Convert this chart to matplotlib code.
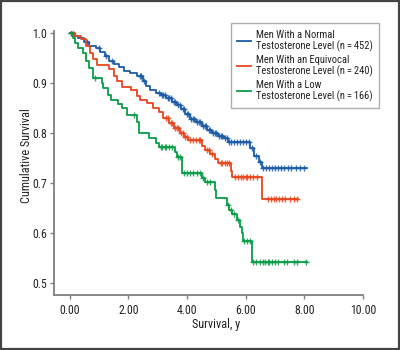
import numpy as np
import matplotlib
matplotlib.use("Agg")
import matplotlib.pyplot as plt
from matplotlib.patches import Rectangle

plt.rcParams['font.family'] = ['Roboto Condensed', 'Liberation Sans', 'DejaVu Sans']

# ---- data ----
labels = ["Men With a Normal\nTestosterone Level (n\u2009=\u2009452)",
          "Men With an Equivocal\nTestosterone Level (n\u2009=\u2009240)",
          "Men With a Low\nTestosterone Level (n\u2009=\u2009166)"]
colors = ["#1b5ca8", "#e8461e", "#0a9c48"]

normal_t = [0.0, 0.15, 0.3, 0.5, 0.65, 0.9, 1.05, 1.2, 1.35, 1.5, 1.7, 1.85, 2.05, 2.3, 2.5,
            2.6, 2.75, 2.95, 3.1, 3.3, 3.5, 3.65, 3.8, 3.95, 4.1, 4.3, 4.5, 4.7, 4.85, 5.05,
            5.25, 5.4, 6.15, 6.3, 6.45, 6.55]
normal_s = [1.0, 0.995, 0.99, 0.982, 0.975, 0.97, 0.962, 0.955, 0.945, 0.938, 0.932, 0.925,
            0.92, 0.915, 0.905, 0.895, 0.886, 0.88, 0.876, 0.87, 0.862, 0.856, 0.848, 0.838,
            0.828, 0.822, 0.815, 0.806, 0.8, 0.795, 0.79, 0.783, 0.77, 0.755, 0.742, 0.73]
normal_end = 8.08
normal_cens = [0.05, 0.6, 1.0, 1.25, 1.45, 2.4, 2.45, 2.55, 3.05, 3.15, 3.2, 3.25, 3.35, 3.4,
               3.45, 3.55, 3.6, 3.7, 3.75, 3.85, 3.9, 4.0, 4.05, 4.15, 4.2, 4.25, 4.35, 4.4,
               4.45, 4.55, 4.6, 4.65, 4.75, 4.8, 4.9, 4.95, 5.0, 5.1, 5.15, 5.2, 5.3, 5.35,
               5.45, 5.5, 5.6, 5.7, 5.8, 5.9, 6.0, 6.1, 6.2, 6.35, 6.5,
               6.6, 6.7, 6.8, 6.9, 7.0, 7.1, 7.2, 7.3, 7.45, 7.55, 7.7, 7.85, 8.0]

equiv_t = [0.0, 0.2, 0.4, 0.55, 0.7, 0.8, 0.93, 1.35, 1.5, 1.62, 1.8, 2.1, 2.3, 2.4, 2.65,
           2.85, 3.05, 3.2, 3.4, 3.55, 3.75, 3.9, 4.05, 4.5, 4.6, 4.8, 4.95, 5.05, 5.5, 5.55, 6.55]
equiv_s = [1.0, 0.995, 0.988, 0.975, 0.96, 0.948, 0.936, 0.928, 0.915, 0.905, 0.892, 0.886,
           0.875, 0.866, 0.86, 0.85, 0.842, 0.83, 0.82, 0.81, 0.8, 0.793, 0.786, 0.775, 0.766,
           0.758, 0.748, 0.74, 0.725, 0.712, 0.668]
equiv_end = 7.77
equiv_cens = [0.1, 3.3, 3.35, 3.45, 3.5, 3.6, 3.65, 3.7, 3.8, 3.85, 3.95, 4.0, 4.1, 4.2, 4.3,
              4.4, 4.45, 4.7, 4.75, 4.85, 5.15, 5.2, 5.3, 5.35, 5.45, 5.65, 5.75, 5.85, 5.9,
              6.0, 6.05, 6.15, 6.25, 6.4,
              6.75, 6.85, 6.95, 7.05, 7.15, 7.25, 7.35, 7.5, 7.65, 7.75]

low_t = [0.0, 0.1, 0.2, 0.3, 0.45, 0.55, 0.65, 0.8, 1.1, 1.15, 1.3, 1.4, 1.65, 1.78, 1.95,
         2.3, 2.38, 2.7, 2.95, 3.05, 3.6, 3.65, 3.82, 4.5, 4.6, 4.95, 5.0, 5.38, 5.45, 5.55,
         5.7, 5.8, 5.87, 5.92, 6.2]
low_s = [1.0, 0.99, 0.98, 0.97, 0.96, 0.945, 0.93, 0.91, 0.9, 0.89, 0.876, 0.866, 0.858,
         0.85, 0.836, 0.822, 0.8, 0.79, 0.78, 0.772, 0.762, 0.752, 0.72, 0.71, 0.702, 0.685,
         0.67, 0.655, 0.646, 0.638, 0.625, 0.612, 0.6, 0.584, 0.542]
low_end = 8.08
low_cens = [0.05, 0.85, 2.2, 3.1, 3.15, 3.25, 3.3, 3.4, 3.5, 3.7, 3.75, 3.9, 4.0, 4.1, 4.2,
            4.35, 4.45, 4.55, 4.7, 4.8, 5.4, 5.5, 5.6, 5.75, 5.95, 6.05, 6.15,
            6.25, 6.35, 6.5, 6.6, 6.65, 6.75, 6.8, 6.9, 7.0, 7.1, 7.3, 7.4, 7.65, 7.75, 8.05]

groups = [(normal_t, normal_s, normal_end, normal_cens),
          (equiv_t, equiv_s, equiv_end, equiv_cens),
          (low_t, low_s, low_end, low_cens)]

# ---- figure ----
fig = plt.figure(figsize=(4.0, 3.5), dpi=100)
ax = fig.add_axes([0.134, 0.156, 0.7735, 0.755])

for (t, s, end, cens), c, lab in zip(groups, colors, labels):
    t = np.array(t)
    s = np.array(s)
    tt = np.append(t, end)
    ss = np.append(s, s[-1])
    ax.step(tt, ss, where='post', color=c, lw=1.3, label=lab)
    cens = np.array(cens)
    idx = np.searchsorted(t, cens, side='right') - 1
    ax.plot(cens, s[idx], linestyle='none', marker='+', ms=5, mew=1.0, color=c, alpha=0.85)

ax.set_xlim(-0.545, 10.0)
ax.set_ylim(0.475, 1.004)
ax.set_xticks([0, 2, 4, 6, 8, 10])
ax.set_xticklabels(["0.00", "2.00", "4.00", "6.00", "8.00", "10.00"])
ax.set_yticks([0.5, 0.6, 0.7, 0.8, 0.9, 1.0])
ax.set_yticklabels(["0.5", "0.6", "0.7", "0.8", "0.9", "1.0"])

for side in ['top', 'right']:
    ax.spines[side].set_visible(False)
for side in ['left', 'bottom']:
    ax.spines[side].set_color('#7f7f7f')
    ax.spines[side].set_linewidth(1.3)
ax.tick_params(axis='both', direction='out', length=3, width=1, color='#7f7f7f',
               labelsize=8.5, labelcolor='#222222')
ax.tick_params(axis='y', pad=1.5)
ax.tick_params(axis='x', pad=3.5)

ax.set_xlabel("Survival, y", fontsize=8.8, color='#222222', labelpad=1)
ax.set_ylabel("Cumulative Survival", fontsize=8.8, color='#222222', labelpad=3)
ax.xaxis.set_label_coords(0.525, -0.085)
ax.yaxis.set_label_coords(-0.068, 0.529)

leg = ax.legend(loc='upper right', bbox_to_anchor=(1.052, 1.030), borderaxespad=0,
                fontsize=7.6, frameon=True, fancybox=False, edgecolor='#9a9a9a',
                handlelength=1.3, handletextpad=0.45, borderpad=0.6, labelspacing=0.3)
leg.get_frame().set_linewidth(1.0)
for txt in leg.get_texts():
    txt.set_color('#222222')
    txt.set_linespacing(1.05)

fig.patches.append(Rectangle((0.003, 0.004), 0.994, 0.992, transform=fig.transFigure,
                             fill=False, edgecolor='#444444', lw=1.6))

fig.savefig("out.png", dpi=100)
